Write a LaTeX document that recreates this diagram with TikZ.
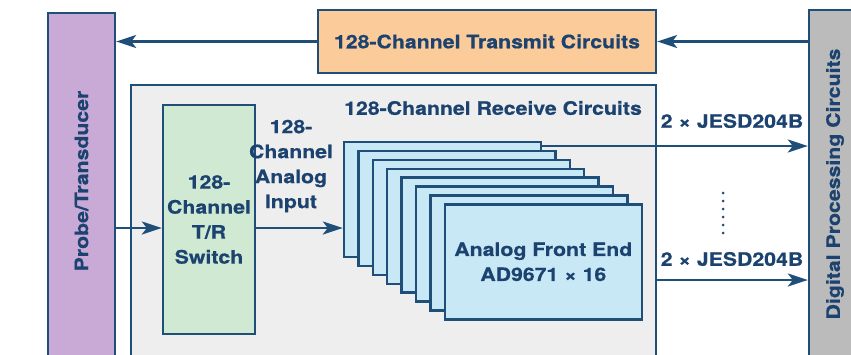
\documentclass[tikz,border=0pt]{standalone}
\usepackage{fontspec}
\setmainfont{TeX Gyre Heros}[FakeStretch=1.15,BoldFeatures={FakeBold=0.6}]
\usetikzlibrary{arrows.meta}
\definecolor{lineblue}{HTML}{1F4E79}
\definecolor{textblue}{HTML}{1C4370}
\definecolor{probepurple}{HTML}{C9AAD6}
\definecolor{txorange}{HTML}{FBCB99}
\definecolor{digigray}{HTML}{BBBBBB}
\definecolor{recvgray}{HTML}{EEEEEE}
\definecolor{switchgreen}{HTML}{D0E9D3}
\definecolor{afeblue}{HTML}{C9E8F5}
\begin{document}
\begin{tikzpicture}[x=1pt,y=-1pt,
    box/.style={draw=lineblue,line width=2.4pt,rectangle,inner sep=0pt},
    lbl/.style={text=textblue,font=\fontsize{18.5}{25}\selectfont\bfseries,align=center},
    arr/.style={draw=lineblue,line width=2.2pt,-{Stealth[length=20pt,width=13pt,inset=5pt]}},
    dots/.style={draw=lineblue,line width=3pt,line cap=round,dash pattern=on 0pt off 8pt}]
            \useasboundingbox (0,0) rectangle (851,354);
            \clip (0,0) rectangle (851,354);
            % Nodes
            \node[box,fill=probepurple,minimum width=67pt,minimum height=360pt] (probe) at (81.5,193){};
            \node[lbl,rotate=90] (probetxt) at (81.5,181){Probe/Transducer};
            \node[box,lbl,fill=txorange,minimum width=338pt,minimum height=63pt] (transmit) at (487,41.5){128-Channel Transmit Circuits};
            \node[box,fill=digigray,minimum width=62pt,minimum height=360pt] (digital) at (840,190){};
            \node[lbl,rotate=90] (digitxt) at (835,184){Digital Processing Circuits};
            \node[box,fill=recvgray,minimum width=525pt,minimum height=290pt] (receive) at (393.5,230){};
            \node[lbl] (recvtxt) at (493,108){128-Channel Receive Circuits};
            \node[box,lbl,fill=switchgreen,minimum width=92pt,minimum height=229pt] (switch) at (209,219.5){128-\\Channel\\T/R\\Switch};
            \node[lbl] (aintxt) at (291,166){128-\\Channel\\Analog\\Input};
            \foreach \i in {0,...,7}
                \node[box,fill=afeblue,minimum width=197pt,minimum height=115pt] (card\i) at (442.5+14.4*\i,199.5+8.9*\i){};
            \node[lbl] (afetxt) at (card7){Analog Front End\\AD9671 × 16};
            \node[lbl] (jesdA) at (732,121){2 × JESD204B};
            \node[lbl] (jesdB) at (732,259){2 × JESD204B};
            \coordinate (inrow) at (0,228);
            \coordinate (outA) at (0,146);
            \coordinate (outB) at (0,280);
            \coordinate (dotA) at (723,193);
            \coordinate (dotB) at (723,233);
            % Edges
            \draw[arr] (transmit.east -| digital.west) -- (transmit.east);
            \draw[arr] (transmit.west) -- (transmit.west -| probe.east);
            \draw[arr] (probe.east |- inrow) -- (switch.west |- inrow);
            \draw[arr] (switch.east |- inrow) -- (card0.west |- inrow);
            \draw[arr] (card0.east |- outA) -- (digital.west |- outA);
            \draw[arr] (receive.east |- outB) -- (digital.west |- outB);
            \draw[dots] (dotA) -- (dotB);
        \end{tikzpicture}
\end{document}
